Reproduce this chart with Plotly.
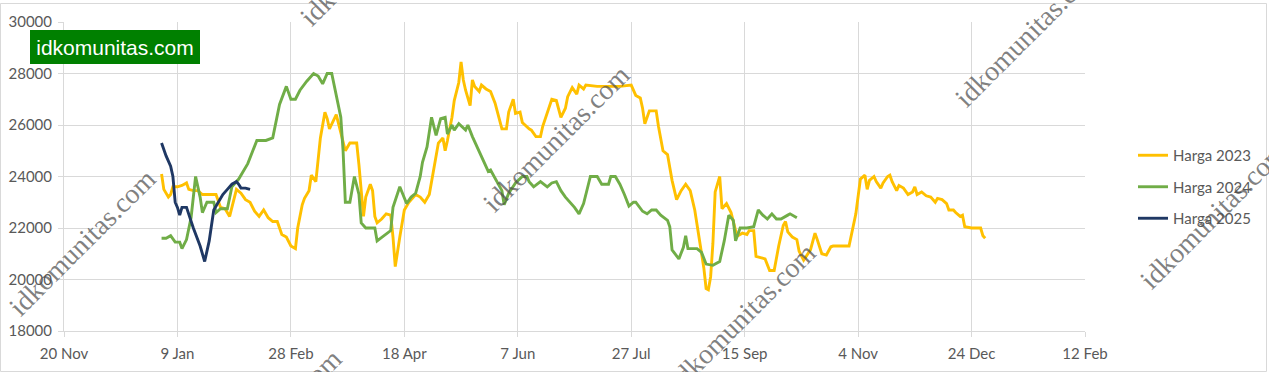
import pandas as pd
import plotly.graph_objects as go

# ---- data (day of year 2024 index, price) ----
h23_day = [1,2,4,5,6,8,10,12,13,15,17,19,22,25,27,29,31,32,34,36,38,40,42,44,46,48,50,52,54,56,58,60,61,63,64,66,67,69,70,71,73,74,75,77,78,79,81,82,84,87,88,89,90,91,93,94,95,96,98,100,102,103,104,106,108,110,113,115,117,119,121,123,125,126,127,129,130,132,133,134,135,137,138,139,141,142,144,146,148,149,151,153,154,156,157,159,160,163,164,166,168,169,171,173,175,177,179,180,182,184,185,187,188,193,198,203,208,210,212,213,214,216,219,220,222,224,225,226,228,230,232,234,236,238,240,241,242,243,244,245,246,247,248,250,252,254,255,257,259,260,262,263,265,267,269,271,273,275,276,277,279,281,282,284,287,289,290,292,294,296,297,304,307,308,309,311,312,313,315,316,318,319,321,322,323,325,326,328,330,332,333,334,336,338,340,342,343,345,347,348,350,351,353,354,355,358,362,363,364]
h23_val = [24100,23500,23200,23300,23600,23600,23650,23750,23500,23450,23450,23300,23300,23300,22800,22750,22450,22800,23500,23350,23100,23000,22650,22450,22700,22400,22250,22250,21750,21650,21300,21200,22000,22900,23150,23450,24050,23800,24600,25500,26500,26250,25850,26200,26400,26050,25300,25000,25300,25300,24450,23350,22450,23200,23700,23450,22450,22200,22350,22550,22500,21650,20500,21650,22700,23000,23300,23200,23000,23300,24350,25300,25500,25000,25400,26300,26950,27650,28450,27750,27350,26750,27750,27500,27300,27550,27400,27300,26850,26550,25850,25850,26500,27000,26450,26500,26100,25850,25800,25550,25550,25950,26500,27000,26950,26300,26650,27100,27450,27200,27550,27400,27550,27500,27500,27500,27550,27150,27050,26650,26050,26550,26550,25950,25000,24850,24350,23850,23100,23450,23700,23450,22700,21650,20450,19650,19600,20100,21400,23400,23700,24000,22750,22950,22600,21900,21700,21800,21750,21900,21900,20900,20850,20800,20350,20350,21300,22100,22250,21850,21650,21550,21100,20750,21150,21800,21550,21000,20950,21270,21300,21300,22550,23300,23900,24050,23500,23850,24000,23800,23550,23750,24000,24050,23800,23450,23650,23550,23300,23400,23600,23300,23400,23250,23200,23000,23150,23100,22950,22700,22700,22600,22450,22500,22050,22000,22000,21700,21600]

h24_day = [1,3,5,7,9,10,12,14,16,18,19,21,24,25,27,30,32,35,39,43,47,50,53,56,58,60,62,65,68,70,72,74,76,78,80,81,82,84,86,88,89,91,95,96,99,102,103,106,109,111,113,115,116,118,120,122,124,126,127,129,130,132,135,136,138,140,143,145,146,149,151,152,154,157,160,162,163,165,168,171,173,175,177,179,181,183,185,187,189,190,193,195,198,199,201,203,205,207,209,210,213,215,217,219,221,224,225,226,229,231,232,233,237,239,241,244,247,249,251,253,254,256,259,262,264,266,268,270,272,274,277,278,281]
h24_val = [21600,21600,21700,21450,21450,21200,21550,22400,24000,23200,22600,23000,23000,22600,22750,22750,23600,23900,24500,25400,25400,25500,26800,27500,27000,27000,27350,27700,28000,27900,27600,28000,28000,27200,26300,25000,23000,23000,24000,23300,22200,22000,22000,21500,21700,21900,22800,23600,22950,23200,23350,24000,24550,25150,26300,25600,26250,26300,25650,26000,25800,26050,25800,26000,25550,25150,24600,24200,24250,23800,23450,22900,23350,23750,24000,24000,23800,23600,23800,23600,23750,23800,23450,23200,23000,22800,22550,22950,23650,24000,24000,23700,23700,24000,24000,23700,23300,22850,23000,23000,22650,22550,22700,22700,22500,22300,22050,21150,20800,21250,21700,21200,21200,21050,20600,20550,20700,21500,22500,22300,21500,22000,22000,22050,22700,22500,22350,22550,22350,22350,22500,22550,22400]

h25_day = [1,3,5,6,7,8,9,10,12,13,15,18,20,22,23,24,26,28,30,32,34,35,36,38,40]
h25_val = [25300,24800,24400,24000,23000,22800,22500,22800,22800,22500,22000,21300,20700,21500,22200,22700,23000,23300,23500,23700,23800,23700,23550,23550,23500]

series_names = ["Harga 2023", "Harga 2024", "Harga 2025"]
series_colors = ["#FFC000", "#70AD47", "#1F3864"]

base = pd.Timestamp("2024-01-01")
def to_dates(days):
    return [base + pd.Timedelta(days=int(d)) for d in days]

W, H = 1269, 372
L, R, T, B = 64, 184, 22, 41
pw, ph = W - L - R, H - T - B

def px(x):
    return (x - L) / pw
def py(y):
    return (H - B - y) / ph

fig = go.Figure()
for days, vals, name, col in zip([h23_day, h24_day, h25_day],
                                 [h23_val, h24_val, h25_val],
                                 series_names, series_colors):
    fig.add_trace(go.Scatter(x=to_dates(days), y=vals, mode="lines", name=name,
                             legendgroup=name,
                             line=dict(color=col, width=2.9)))

font_main = "Lato, Calibri, Arial, sans-serif"
fig.update_layout(
    width=W, height=H,
    margin=dict(l=L, r=R, t=T, b=B, autoexpand=False),
    paper_bgcolor="white", plot_bgcolor="white",
    font=dict(family=font_main, size=15, color="#595959"),
    showlegend=True,
    legend=dict(x=px(1133), xanchor="left", y=py(187), yanchor="middle",
                font=dict(size=15, color="#595959"), tracegroupgap=9,
                bgcolor="rgba(0,0,0,0)"),
    xaxis=dict(type="date", range=["2023-11-20", "2025-02-12"],
               tick0="2023-11-20", dtick=50 * 86400000, tickformat="%-d %b",
               showgrid=True, gridcolor="#D9D9D9", gridwidth=1,
               showline=True, linecolor="#D9D9D9", ticks="outside",
               ticklen=5, tickcolor="#D9D9D9", zeroline=False,
               ticklabelstandoff=4, automargin=False),
    yaxis=dict(range=[18000, 30000], dtick=2000, tickformat="d",
               showgrid=True, gridcolor="#D9D9D9", gridwidth=1,
               showline=True, linecolor="#D9D9D9", ticks="outside",
               ticklen=5, tickcolor="#D9D9D9", zeroline=False,
               ticklabelstandoff=3, automargin=False),
)

# chart border
fig.add_shape(type="rect", xref="paper", yref="paper",
              x0=px(0.5), x1=px(1266.5), y0=py(371.5), y1=py(3.5),
              line=dict(color="#D9D9D9", width=1), layer="below")

# green label box
fig.add_annotation(xref="paper", yref="paper", x=px(115), y=py(47),
                   xanchor="center", yanchor="middle", showarrow=False,
                   text="idkomunitas.com", bgcolor="#008000", borderwidth=0,
                   width=166, height=30, borderpad=2,
                   font=dict(family="Liberation Sans, Arial, sans-serif", size=21, color="white"))

# watermarks
wm_centers = [(82, 242), (373, -48), (556, 138), (268, 422), (742, 316), (1028, 33), (1213, 215)]
for cx, cy in wm_centers:
    fig.add_annotation(xref="paper", yref="paper", x=px(cx), y=py(cy),
                       xanchor="center", yanchor="middle", showarrow=False,
                       text="idkomunitas.com", textangle=-45,
                       font=dict(family="Liberation Serif, Times New Roman, serif",
                                 size=28, color="rgba(80,80,80,0.72)"))

fig.write_html("out.html")
